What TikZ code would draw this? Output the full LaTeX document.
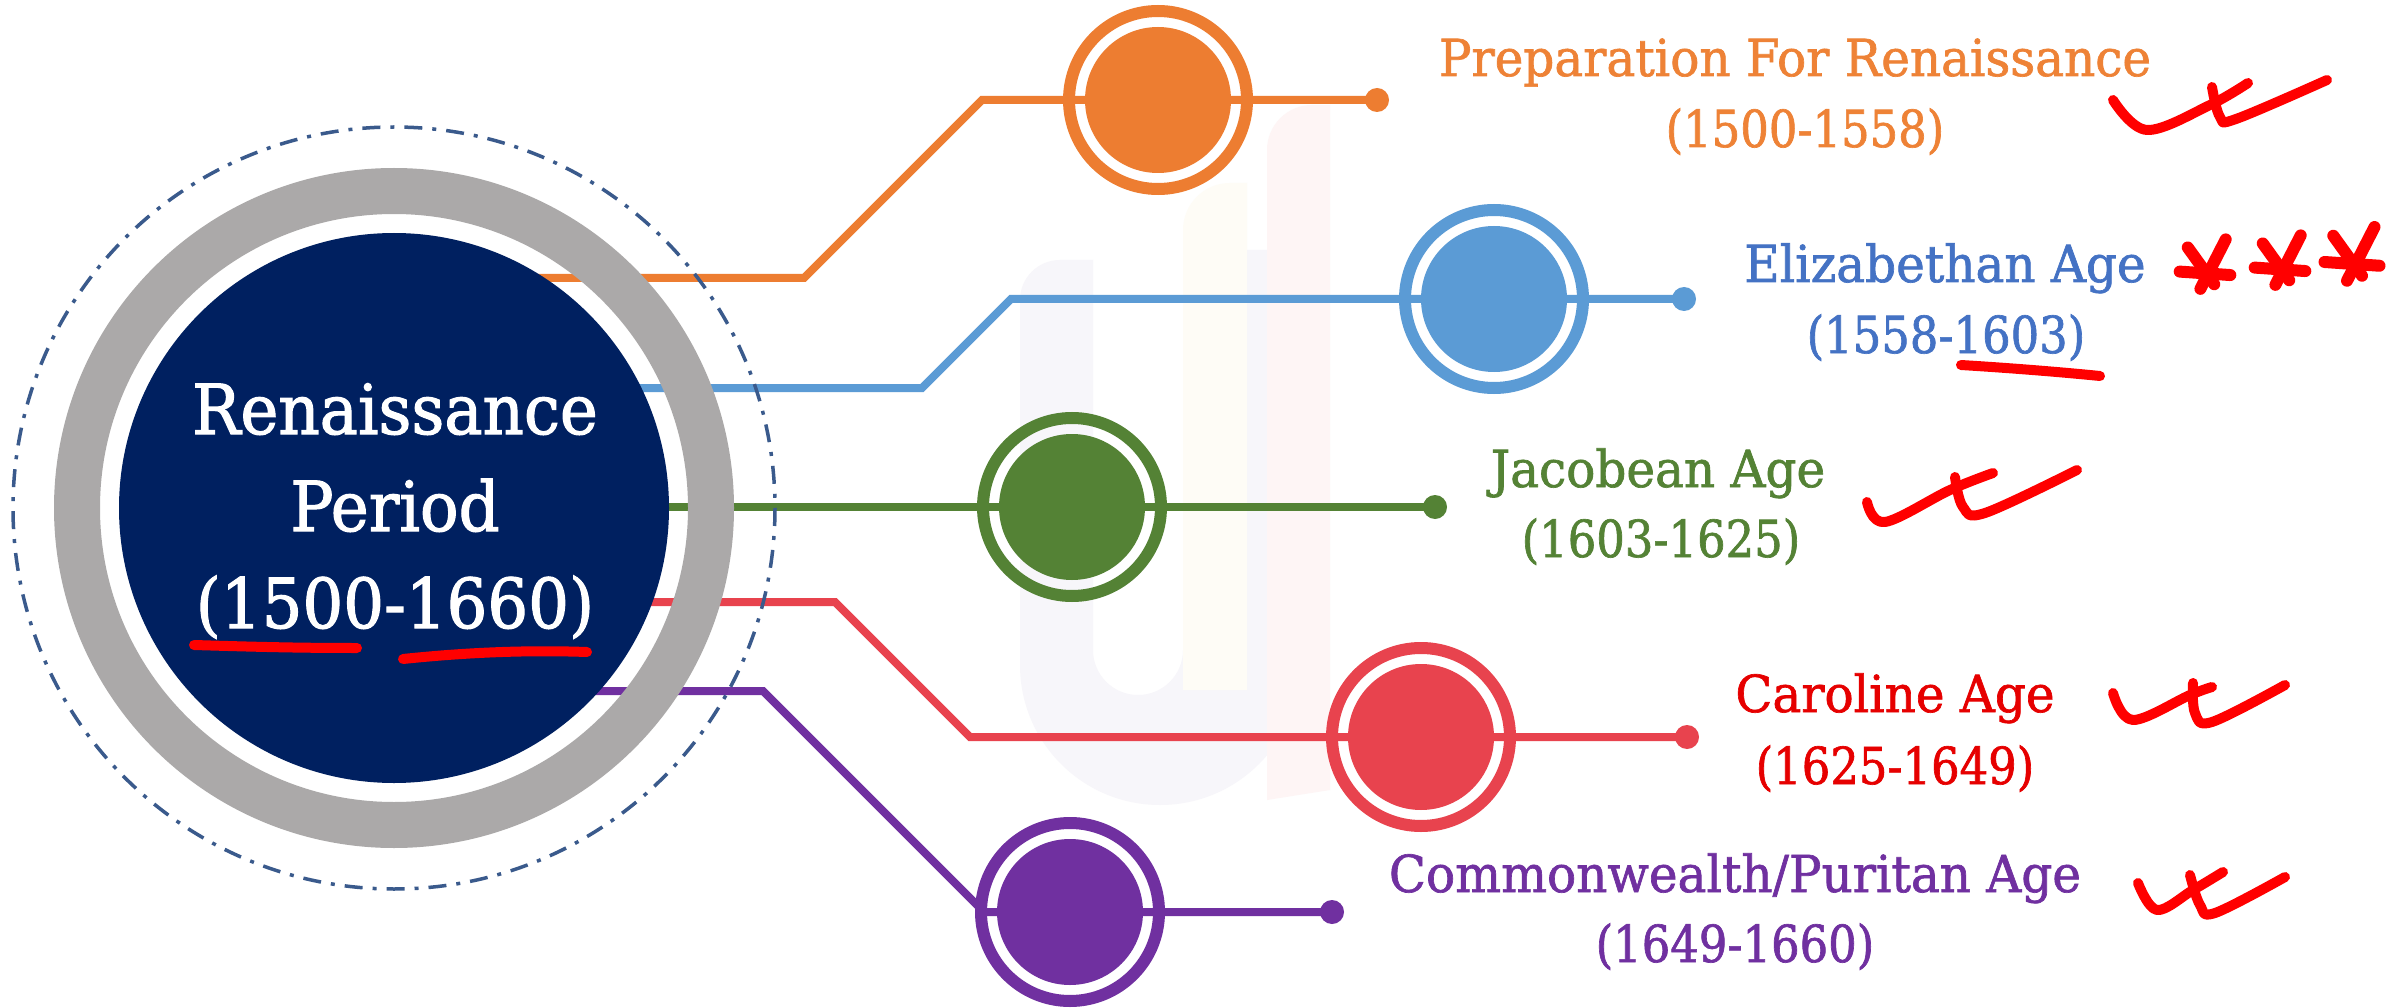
\documentclass[tikz,border=0pt]{standalone}
\usepackage{fontspec}
\setmainfont{DejaVu Serif}
\newfontfamily\labfont[FakeStretch=0.95,FakeBold=1.3]{DejaVu Serif}
\newfontfamily\yearfont[FakeStretch=0.88,FakeBold=1.3]{DejaVu Serif}
\newfontfamily\cenfont[FakeStretch=0.93,FakeBold=1.6]{DejaVu Serif}
\definecolor{cOrange}{HTML}{ED7D31}
\definecolor{cBlue}{HTML}{5B9BD5}
\definecolor{cGreen}{HTML}{548235}
\definecolor{cRed}{HTML}{E8434E}
\definecolor{cPurple}{HTML}{7030A0}
\definecolor{tOrange}{HTML}{EE8236}
\definecolor{tBlue}{HTML}{4472C4}
\definecolor{tGreen}{HTML}{548235}
\definecolor{tRed}{HTML}{E60000}
\definecolor{tPurple}{HTML}{7030A0}
\definecolor{navy}{HTML}{002060}
\definecolor{ringgray}{HTML}{ABA9A9}
\definecolor{dashblue}{HTML}{3A5A8C}
\definecolor{wmLav}{HTML}{F7F6FA}
\definecolor{wmCream}{HTML}{FEFCF6}
\definecolor{wmPink}{HTML}{FEF5F5}
\definecolor{pen}{HTML}{FF0000}
\begin{document}
\begin{tikzpicture}[x=1pt,y=-1pt,
  conn/.style={draw=#1, line width=8pt, line join=miter},
  bub/.style={circle, fill=#1, inner sep=0pt, minimum size=146pt},
  lab/.style={font=\labfont\fontsize{51pt}{60pt}\selectfont, anchor=base, inner sep=0pt},
  yr/.style={font=\yearfont\fontsize{51pt}{60pt}\selectfont, anchor=base, inner sep=0pt},
  cen/.style={font=\cenfont\fontsize{69pt}{80pt}\selectfont, anchor=base, inner sep=0pt, text=white},
  redpen/.style={draw=pen, line width=10pt, line cap=round, line join=round}]
\useasboundingbox (0,0) rectangle (2402,1008);
\fill[white] (0,0) rectangle (2402,1008);
% faint watermark
\fill[wmLav] (1020,300) arc[start angle=180,end angle=270,radius=40] -- (1093,260) -- (1093,650)
  arc[start angle=180,end angle=0,radius=45] -- (1183,250) -- (1300,250) -- (1300,665)
  arc[start angle=0,end angle=180,radius=140] -- cycle;
\fill[wmCream] (1183,230) arc[start angle=180,end angle=270,radius=47] -- (1247,183) -- (1247,690) -- (1183,690) -- cycle;
\fill[wmPink] (1267,150) arc[start angle=180,end angle=270,radius=45] -- (1330,105) -- (1330,700)
  -- (1330,790) -- (1267,800) -- cycle;
% coordinates
\coordinate (s1) at (450,278);
\coordinate (s2) at (450,388);
\coordinate (s3) at (450,507);
\coordinate (s4) at (450,602);
\coordinate (s5) at (450,691);
\coordinate (d1) at (1377,100);
\coordinate (d2) at (1684,299);
\coordinate (d3) at (1435,507);
\coordinate (d4) at (1687,737);
\coordinate (d5) at (1332,912);
% connectors
\draw[conn=cOrange] (s1) -- (804,278) -- (982,100) -- (d1);
\draw[conn=cBlue] (s2) -- (922,388) -- (1011,299) -- (d2);
\draw[conn=cGreen] (s3) -- (d3);
\draw[conn=cRed] (s4) -- (835,602) -- (970,737) -- (d4);
\draw[conn=cPurple] (s5) -- (763,691) -- (984,912) -- (d5);
\fill[cOrange] (d1) circle (12);
\fill[cBlue] (d2) circle (12);
\fill[cGreen] (d3) circle (12);
\fill[cRed] (d4) circle (12);
\fill[cPurple] (d5) circle (12);
% main circle
\draw[dashblue, line width=3.5pt, dash pattern=on 18pt off 10pt on 4pt off 10pt] (394,508) circle (381);
\draw[ringgray, line width=46pt] (394,508) circle (317);
\node[circle, fill=navy, inner sep=0pt, minimum size=550pt] (main) at (394,508) {};
% small circles
\node[bub=cOrange] (o1) at (1158,100) {};
\node[bub=cBlue] (o2) at (1494,299) {};
\node[bub=cGreen] (o3) at (1072,507) {};
\node[bub=cRed] (o4) at (1421,737) {};
\node[bub=cPurple] (o5) at (1070,912) {};
\draw[cOrange, line width=12pt] (o1.center) circle (89);
\draw[cBlue, line width=12pt] (o2.center) circle (89);
\draw[cGreen, line width=12pt] (o3.center) circle (89);
\draw[cRed, line width=12pt] (o4.center) circle (89);
\draw[cPurple, line width=12pt] (o5.center) circle (89);
% centre text
\node[cen] (m1) at (395,434) {Renaissance};
\node[cen] (m2) at (395,531) {Period};
\node[cen] (m3) at (395,628) {(1500-1660)};
% labels
\node[lab, text=tOrange] (t1) at (1795,76) {Preparation For Renaissance};
\node[yr, text=tOrange] (y1) at (1805,147) {(1500-1558)};
\node[lab, text=tBlue] (t2) at (1945,282) {Elizabethan Age};
\node[yr, text=tBlue] (y2) at (1946,353) {(1558-1603)};
\node[lab, text=tGreen] (t3) at (1658,487) {Jacobean Age};
\node[yr, text=tGreen] (y3) at (1661,557) {(1603-1625)};
\node[lab, text=tRed] (t4) at (1895,712) {Caroline Age};
\node[yr, text=tRed] (y4) at (1895,784) {(1625-1649)};
\node[lab, text=tPurple] (t5) at (1735,892) {Commonwealth/Puritan Age};
\node[yr, text=tPurple] (y5) at (1735,962) {(1649-1660)};
% red pen annotations
\draw[redpen] (194,645) .. controls (260,647) and (300,648) .. (357,648);
\draw[redpen] (403,659) .. controls (470,652) and (530,650) .. (587,652);
\draw[redpen] (1961,365) .. controls (2010,368) and (2060,372) .. (2100,376);
% check marks
\draw[redpen] plot[smooth, tension=0.6] coordinates {(2113,100) (2147,130) (2210,105) (2248,83)};
\draw[redpen] plot[smooth, tension=0.6] coordinates {(2212,87) (2220,117) (2236,119) (2327,80)};
\draw[redpen] plot[smooth, tension=0.6] coordinates {(1867,502) (1885,522) (1950,490) (1993,473)};
\draw[redpen] plot[smooth, tension=0.6] coordinates {(1955,477) (1963,507) (1985,513) (2077,470)};
\draw[redpen] plot[smooth, tension=0.6] coordinates {(2113,693) (2133,720) (2190,695) (2212,687)};
\draw[redpen] plot[smooth, tension=0.6] coordinates {(2193,683) (2195,713) (2212,722) (2285,685)};
\draw[redpen] plot[smooth, tension=0.6] coordinates {(2138,883) (2157,910) (2193,890) (2223,872)};
\draw[redpen] plot[smooth, tension=0.6] coordinates {(2190,875) (2200,905) (2215,913) (2285,877)};
% asterisks
\foreach \cx/\cy/\s in {2205/267/1.15, 2280/263/1.15, 2352/257/1.25}{
  \draw[redpen, line width=12pt] (\cx-15*\s,\cy-17*\s) -- (\cx+8*\s,\cy+15*\s);
  \draw[redpen, line width=12pt] (\cx+18*\s,\cy-24*\s) -- (\cx-4*\s,\cy+19*\s);
  \draw[redpen, line width=12pt] (\cx-22*\s,\cy+4*\s) -- (\cx+22*\s,\cy+7*\s);
}
\end{tikzpicture}
\end{document}
